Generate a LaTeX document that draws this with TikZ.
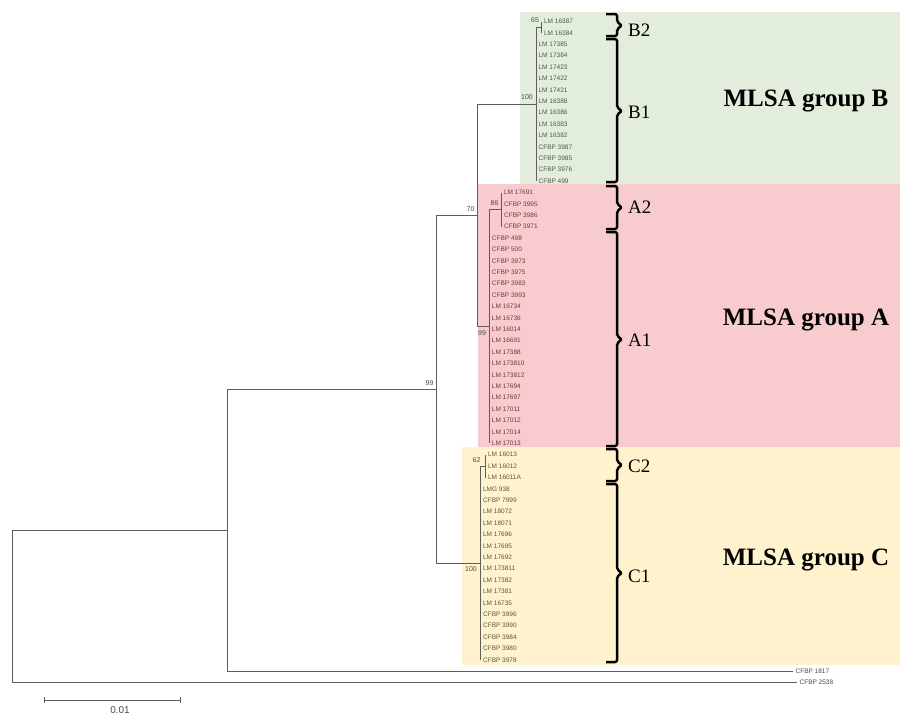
\documentclass[tikz,border=0pt]{standalone}
\usepackage{fontspec}
\setmainfont{Liberation Serif}
\newfontfamily\arialf{Liberation Sans}
\definecolor{bgB}{HTML}{E2EDDB}
\definecolor{bgA}{HTML}{F8CCCE}
\definecolor{bgC}{HTML}{FFF2CC}
\definecolor{treegray}{HTML}{5E5E5E}
\definecolor{txtW}{HTML}{4A4A4A}
\definecolor{txtB}{HTML}{4E584A}
\definecolor{txtA}{HTML}{6E3A3C}
\definecolor{txtC}{HTML}{5E563C}
\tikzset{
  br/.style={draw=treegray, line width=0.85pt},
  leaf/.style={anchor=west, inner xsep=2.4pt, inner ysep=1pt, font=\arialf\fontsize{6.5}{7}\selectfont},
  leafW/.style={leaf, text=txtW},
  leafB/.style={leaf, text=txtB},
  leafA/.style={leaf, text=txtA},
  leafC/.style={leaf, text=txtC},
  boot/.style={inner sep=0pt, font=\arialf\fontsize{7}{8}\selectfont, text=txtW},
  clade/.style={anchor=west, inner sep=0pt, font=\fontsize{19}{20}\selectfont},
  grp/.style={inner sep=0pt, font=\bfseries\fontsize{25}{28}\selectfont},
  brc/.style={draw=black, line width=2.5pt, rounded corners=2pt, line join=round}
}
\begin{document}
\begin{tikzpicture}[x=1pt, y=-1pt]
\useasboundingbox (0,0) rectangle (900,715);
\fill[white] (0,0) rectangle (900,715);
% coloured group backgrounds
\fill[bgB] (520,12) rectangle (900,184);
\fill[bgA] (477.5,184) rectangle (900,447);
\fill[bgC] (462,447) rectangle (900,665);

% internal nodes
\coordinate (nB2) at (541.5,27.2);
\coordinate (nB) at (536,104.15);
\coordinate (nA2) at (501.5,209.6);
\coordinate (nA) at (489.3,326.45);
\coordinate (nAB) at (477,215.3);
\coordinate (nC2) at (485.5,466.1);
\coordinate (nC) at (480.5,563.0);
\coordinate (nABC) at (436,389.15);
\coordinate (nIn) at (227,530.2);
\coordinate (root) at (12,606.5);

% leaves
\foreach \t [count=\i from 0] in {LM 16387, LM 16384}
  \node[leafB] (l\i) at (541.5,{21.5+11.4*\i}) {\t};
\foreach \t [count=\i from 2] in {LM 17385, LM 17384, LM 17423, LM 17422, LM 17421, LM 16388, LM 16386, LM 16383, LM 16382, CFBP 3987, CFBP 3985, CFBP 3976, CFBP 499}
  \node[leafB] (l\i) at (536,{21.5+11.4*\i}) {\t};
\foreach \t [count=\i from 15] in {LM 17691, CFBP 3995, CFBP 3986, CFBP 3971}
  \node[leafA] (l\i) at (501.5,{21.5+11.4*\i}) {\t};
\foreach \t [count=\i from 19] in {CFBP 498, CFBP 500, CFBP 3973, CFBP 3975, CFBP 3983, CFBP 3993, LM 16734, LM 16736, LM 16014, LM 16691, LM 17388, LM 173810, LM 173812, LM 17694, LM 17697, LM 17011, LM 17012, LM 17014, LM 17013}
  \node[leafA] (l\i) at (489.3,{21.5+11.4*\i}) {\t};
\foreach \t [count=\i from 38] in {LM 16013, LM 16012, LM 16011A}
  \node[leafC] (l\i) at (485.5,{21.5+11.4*\i}) {\t};
\foreach \t [count=\i from 41] in {LMG 938, CFBP 7999, LM 18072, LM 18071, LM 17696, LM 17695, LM 17692, LM 173811, LM 17382, LM 17381, LM 16735, CFBP 3996, CFBP 3990, CFBP 3984, CFBP 3980, CFBP 3978}
  \node[leafC] (l\i) at (480.5,{21.5+11.4*\i}) {\t};
\node[leafW] (l57) at (793,{21.5+11.4*57}) {CFBP 1817};
\node[leafW] (l58) at (797,{21.5+11.4*58}) {CFBP 2538};

% tree branches
\foreach \i in {0,1} \draw[br] (nB2) |- (l\i.west);
\draw[br] (nB) |- (nB2);
\foreach \i in {2,...,14} \draw[br] (nB) |- (l\i.west);
\foreach \i in {15,...,18} \draw[br] (nA2) |- (l\i.west);
\draw[br] (nA) |- (nA2);
\foreach \i in {19,...,37} \draw[br] (nA) |- (l\i.west);
\draw[br] (nAB) |- (nB);
\draw[br] (nAB) |- (nA);
\foreach \i in {38,39,40} \draw[br] (nC2) |- (l\i.west);
\draw[br] (nC) |- (nC2);
\foreach \i in {41,...,56} \draw[br] (nC) |- (l\i.west);
\draw[br] (nABC) |- (nAB);
\draw[br] (nABC) |- (nC);
\draw[br] (nIn) |- (nABC);
\draw[br] (nIn) |- (l57.west);
\draw[br] (root) |- (nIn);
\draw[br] (root) |- (l58.west);

% bootstrap values
\node[boot] (bs65) at (535,20.5) {65};
\node[boot] (bs100b) at (527,97) {100};
\node[boot] (bs86) at (494.5,203) {86};
\node[boot] (bs70) at (470.5,209) {70};
\node[boot] (bs99a) at (482,333) {99};
\node[boot] (bs62) at (476.5,460) {62};
\node[boot] (bs100c) at (471,569.5) {100};
\node[boot] (bs99) at (429.5,383) {99};

% braces
\draw[brc] (606,14) -- (617,14) -- (617,22) -- (622,25.5) -- (617,29) -- (617,36) -- (606,36);
\draw[brc] (606,39) -- (617,39) -- (617,107.5) -- (622,111) -- (617,114.5) -- (617,182) -- (606,182);
\draw[brc] (606,186) -- (617,186) -- (617,204) -- (622,207.5) -- (617,211) -- (617,229) -- (606,229);
\draw[brc] (606,232) -- (617,232) -- (617,336) -- (622,339.5) -- (617,343) -- (617,446) -- (606,446);
\draw[brc] (606,449) -- (617,449) -- (617,461.5) -- (622,465) -- (617,468.5) -- (617,481) -- (606,481);
\draw[brc] (606,484) -- (617,484) -- (617,569.5) -- (622,573) -- (617,576.5) -- (617,662) -- (606,662);

% clade labels
\node[clade] (cB2) at (628,30) {B2};
\node[clade] (cB1) at (628,112) {B1};
\node[clade] (cA2) at (628,207) {A2};
\node[clade] (cA1) at (628,340) {A1};
\node[clade] (cC2) at (628,466) {C2};
\node[clade] (cC1) at (628,576) {C1};

% group labels
\node[grp] (gB) at (806,101) {MLSA group B};
\node[grp] (gA) at (806,320) {MLSA group A};
\node[grp] (gC) at (806,560) {MLSA group C};

% scale bar
\coordinate (sb1) at (44,700);
\coordinate (sb2) at (180,700);
\draw[br] (sb1) -- (sb2);
\draw[br] ([yshift=-3pt]sb1) -- ([yshift=3pt]sb1);
\draw[br] ([yshift=-3pt]sb2) -- ([yshift=3pt]sb2);
\node[inner sep=0pt, font=\arialf\fontsize{10}{11}\selectfont, text=txtW] (sbl) at (120,710.5) {0.01};
\end{tikzpicture}
\end{document}
